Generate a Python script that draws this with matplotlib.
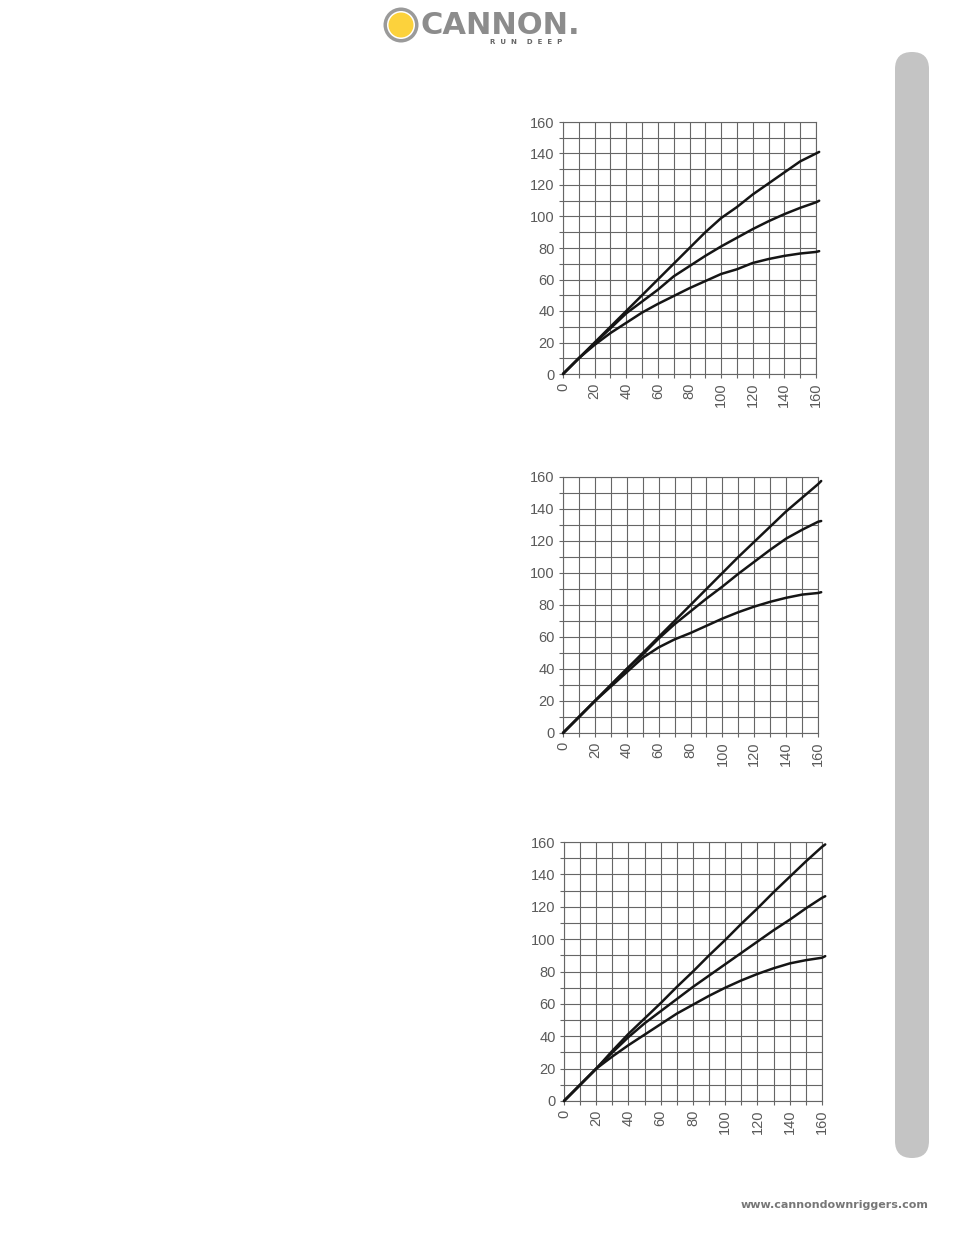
import matplotlib
matplotlib.use("Agg")
import matplotlib.pyplot as plt
from matplotlib.patches import Circle, FancyBboxPatch
import numpy as np

# ---------------- data ----------------
x_vals = [0, 10, 20, 30, 40, 50, 60, 70, 80, 90, 100, 110, 120, 130, 140, 150, 160, 162]

chart1_top = [0, 10, 20, 30, 40, 50, 60, 70, 80, 90, 99, 106, 114, 121, 128, 135, 140, 141]
chart1_mid = [0, 10, 19.5, 29, 38.5, 46, 53.5, 62, 68.5, 75, 81, 86.5, 92, 97, 101.5, 105.5, 109, 110]
chart1_bot = [0, 10, 18.5, 26, 32.5, 39, 44.5, 49.5, 54.5, 59, 63.5, 66.5, 70.5, 73, 75, 76.5, 77.5, 78]

chart2_top = [0, 10, 20, 30, 40, 50, 60, 70, 80, 90, 100, 110, 119.5, 129, 138.5, 147, 155.5, 157.5]
chart2_mid = [0, 10, 20, 30, 40, 49, 59, 68, 76, 84, 91.5, 99.5, 107, 114.5, 121.5, 127, 132, 132.5]
chart2_bot = [0, 10, 20, 29, 38, 47, 53.5, 58.5, 62.5, 67, 71.5, 75.5, 79, 82, 84.5, 86.5, 87.5, 88]

chart3_top = [0, 10, 20, 31, 41.5, 51, 60.5, 70.5, 80, 90, 99.5, 109.5, 119, 129, 138.5, 148, 157, 158.5]
chart3_mid = [0, 10, 20, 30, 39.5, 48, 55.5, 63, 70.5, 77.5, 84.5, 91.5, 98.5, 105.5, 112, 119, 125.5, 126.5]
chart3_bot = [0, 10, 20, 27.5, 34.5, 41, 47.5, 54, 59.5, 65, 70, 74.5, 78.5, 82, 85, 87, 88.5, 89.5]

tick_labels = ["0", "20", "40", "60", "80", "100", "120", "140", "160"]
tick_values = [0, 20, 40, 60, 80, 100, 120, 140, 160]

charts = [
    (chart1_top, chart1_mid, chart1_bot),
    (chart2_top, chart2_mid, chart2_bot),
    (chart3_top, chart3_mid, chart3_bot),
]

# ---------------- figure ----------------
W, H = 954, 1235
fig = plt.figure(figsize=(W / 100, H / 100), dpi=100)
fig.patch.set_facecolor("white")

# background overlay in pixel coordinates
bg = fig.add_axes([0, 0, 1, 1], zorder=0)
bg.set_xlim(0, W)
bg.set_ylim(H, 0)
bg.axis("off")

# right gray bar
bar = FancyBboxPatch((895, 52), 34, 1106, boxstyle="round,pad=0,rounding_size=17",
                     facecolor="#c4c4c4", edgecolor="none")
bg.add_patch(bar)

# logo
bg.add_patch(Circle((401, 25), 17.5, facecolor="#9a9a9a", edgecolor="none"))
bg.add_patch(Circle((401, 25), 14, facecolor="white", edgecolor="none"))
bg.add_patch(Circle((401, 25), 12.5, facecolor="#fcd23c", edgecolor="none"))
bg.text(421, 25, "CANNON.", fontsize=22, fontweight="bold", color="#8c8c8c",
        family="DejaVu Sans", ha="left", va="center")
bg.text(526, 42, "R  U  N    D  E  E  P", fontsize=5, fontweight="bold", color="#666666",
        family="DejaVu Sans", ha="center", va="center")

# url
bg.text(928, 1205, "www.cannondownriggers.com", fontsize=8, fontweight="bold",
        color="#777777", family="DejaVu Sans", ha="right", va="center")

# chart axes rectangles (pixels: left, top, right, bottom)
rects = [
    (563, 122, 816, 374),
    (563, 477, 818, 733),
    (564, 842, 822, 1101),
]

grid_color = "#666666"
label_color = "#5a5a5a"

for (l, t, r, b), (top, mid, bot) in zip(rects, charts):
    ax = fig.add_axes([l / W, 1 - b / H, (r - l) / W, (b - t) / H], zorder=2)
    ax.set_xlim(0, 160)
    ax.set_ylim(0, 160)
    ax.set_xticks(tick_values)
    ax.set_xticklabels(tick_labels, rotation=90)
    ax.set_yticks(tick_values)
    ax.set_yticklabels(tick_labels)
    ax.set_xticks(np.arange(0, 161, 10), minor=True)
    ax.set_yticks(np.arange(0, 161, 10), minor=True)
    ax.grid(True, which="both", color=grid_color, linewidth=0.8)
    ax.set_axisbelow(True)
    for s in ax.spines.values():
        s.set_color(grid_color)
        s.set_linewidth(0.8)
    ax.tick_params(which="both", direction="out", length=3, width=0.8, color=grid_color,
                   labelsize=10.5, labelcolor=label_color, pad=3)
    for lab in ax.get_xticklabels() + ax.get_yticklabels():
        lab.set_family("Liberation Sans")
    for series in (top, mid, bot):
        ax.plot(x_vals, series, color="#151515", linewidth=1.8, clip_on=False,
                solid_capstyle="round", zorder=3)

fig.savefig("out.png", dpi=100, facecolor="white")
